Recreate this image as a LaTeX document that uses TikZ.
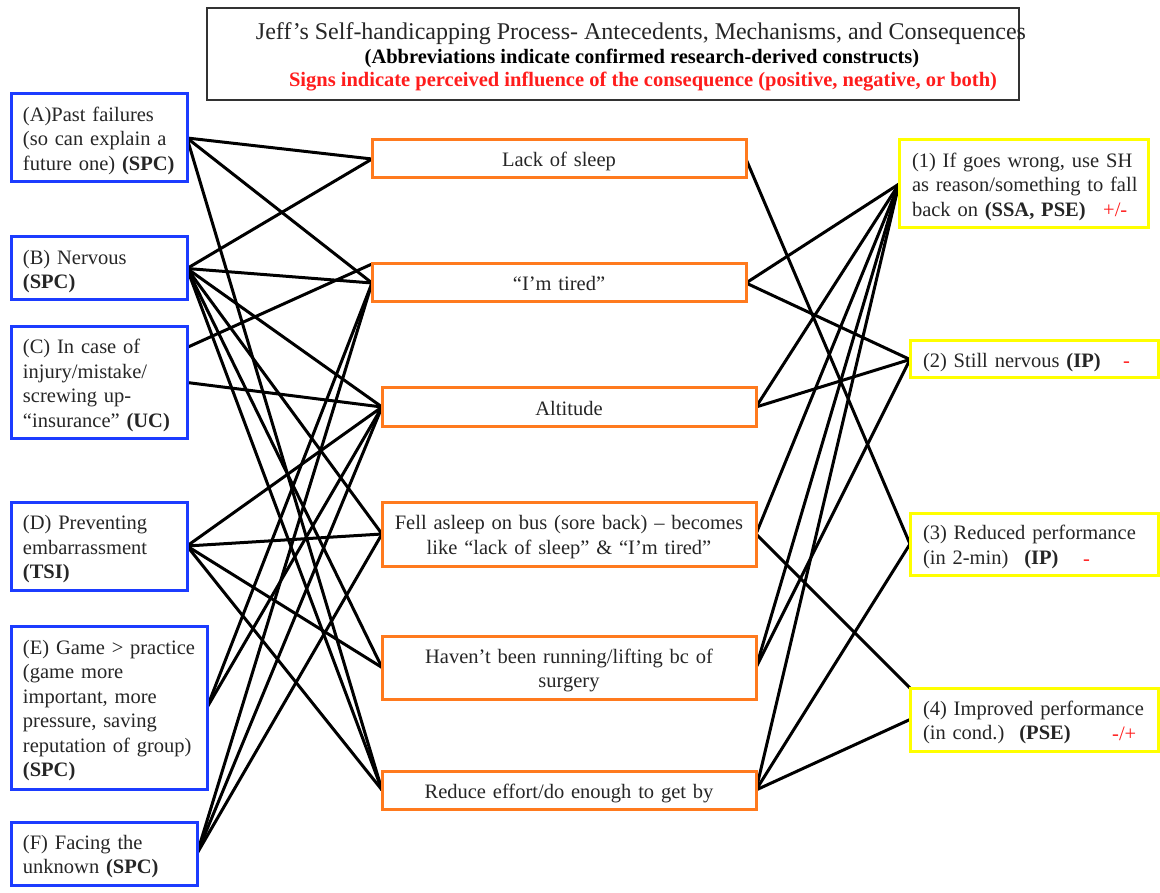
\documentclass[tikz,border=0pt]{standalone}
\usepackage{fontspec}
\setmainfont{Liberation Serif}
\usetikzlibrary{backgrounds}

\definecolor{antblue}{RGB}{28,60,255}
\definecolor{mechorange}{RGB}{255,122,30}
\definecolor{consyellow}{RGB}{255,255,0}
\definecolor{signred}{RGB}{255,28,28}
\definecolor{framegray}{RGB}{50,50,50}
\definecolor{inkgray}{RGB}{38,38,38}
\newcommand{\bodyfont}{\fontsize{20.5}{24.5}\selectfont}

\begin{document}
\begin{tikzpicture}[x=1pt,y=-1pt,
  box/.style={draw, line width=3pt, fill=white, outer sep=0pt, inner ysep=0pt,
              font=\bodyfont, text=inkgray, anchor=north west,
              execute at begin node={\rule{0pt}{22pt}},
              execute at end node={\rule[-6pt]{0pt}{6pt}}},
  antbox/.style={box, draw=antblue, inner xsep=12pt, align=left},
  mechbox/.style={box, draw=mechorange, inner xsep=6pt, align=center,
                  text width=362pt, minimum width=374pt},
  consbox/.style={box, draw=consyellow, inner xsep=13pt, align=left},
  link/.style={line width=3pt, line cap=round},
  signtext/.style={text=signred, font=\bodyfont, anchor=base west, inner sep=0pt},
  titletext/.style={anchor=base, inner sep=0pt}
]
\useasboundingbox (0,0) rectangle (1160,893);

% heading
\node[draw=framegray, line width=1.5pt, outer sep=0pt, anchor=north west,
      minimum width=812pt, minimum height=92pt, inner sep=0pt] (head) at (207,8) {};
\node[titletext, font=\fontsize{24}{28}\selectfont, text=inkgray] (headA) at (641,40)
  {Jeff’s Self-handicapping Process- Antecedents, Mechanisms, and Consequences};
\node[titletext, font=\fontsize{20.5}{24}\selectfont\bfseries] (headB) at (642,64)
  {(Abbreviations indicate confirmed research-derived constructs)};
\node[titletext, font=\fontsize{20.5}{24}\selectfont\bfseries, text=signred] (headC) at (643,87)
  {Signs indicate perceived influence of the consequence (positive, negative, or both)};

% antecedents
\node[antbox, text width=152pt, minimum height=88pt] (A) at (11,94)
  {(A)Past failures\\(so can explain a\\future one) \textbf{(SPC)}};
\node[antbox, text width=152pt, minimum height=63pt] (B) at (11,237)
  {(B) Nervous\\\textbf{(SPC)}};
\node[antbox, text width=152pt, minimum height=111pt] (C) at (11,327)
  {(C) In case of\\injury/mistake/\\screwing up-\\“insurance” \textbf{(UC)}};
\node[antbox, text width=152pt, minimum height=88pt] (D) at (11,502)
  {(D) Preventing\\embarrassment\\\textbf{(TSI)}};
\node[antbox, text width=172pt, minimum height=163pt] (E) at (11,626)
  {\mbox{(E) Game > practice}\\(game more\\important, more\\pressure, saving\\\mbox{reputation of group)}\\\textbf{(SPC)}};
\node[antbox, text width=162pt, minimum height=63pt] (F) at (11,822)
  {(F) Facing the\\unknown \textbf{(SPC)}};
\coordinate (Cup) at ([yshift=35pt]C.east);

% mechanisms
\node[mechbox, minimum height=38pt] (Lack) at (372,140) {Lack of sleep};
\node[mechbox, minimum height=38pt] (Tired) at (372,264) {“I’m tired”};
\node[mechbox, minimum height=38pt] (Alt) at (382,388) {Altitude};
\node[mechbox, minimum height=64pt] (Fell) at (382,502)
  {Fell asleep on bus (sore back) – becomes\\like “lack of sleep” \& “I’m tired”};
\node[mechbox, minimum height=63pt] (Hav) at (382,636)
  {Haven’t been running/lifting bc of\\surgery};
\node[mechbox, minimum height=38pt] (Red) at (382,771) {Reduce effort/do enough to get by};

% consequences
\node[consbox, text width=223pt, minimum height=88pt] (R1) at (899,140)
  {\mbox{(1) If goes wrong, use SH}\\\mbox{as reason/something to fall}\\back on \textbf{(SSA, PSE)}};
\node[consbox, text width=222pt, minimum height=37pt] (R2) at (910,341)
  {(2) Still nervous \textbf{(IP)}};
\node[consbox, text width=222pt, minimum height=62pt] (R3) at (910,513)
  {(3) Reduced performance\\(in 2-min)\hspace{16pt}\textbf{(IP)}};
\node[consbox, text width=222pt, minimum height=63pt] (R4) at (910,688)
  {\mbox{(4) Improved performance}\\(in cond.)\hspace{15pt}\textbf{(PSE)}};

% signs of influence
\node[signtext] (S1) at (1103,217) {+/-};
\node[signtext] (S2) at (1123,368) {-};
\node[signtext] (S3) at (1083,565) {-};
\node[signtext] (S4) at (1112,740) {-/+};

% connectors, beneath the boxes
\begin{scope}[on background layer]
  \fill[white] (0,0) rectangle (1160,893);
  \draw[link] (A.east) -- (Lack.west);
  \draw[link] (A.east) -- (Tired.west);
  \draw[link] (A.east) -- (Red.west);
  \draw[link] (B.east) -- (Lack.west);
  \draw[link] (B.east) -- (Tired.west);
  \draw[link] (B.east) -- (Alt.west);
  \draw[link] (B.east) -- (Fell.west);
  \draw[link] (B.east) -- (Hav.west);
  \draw[link] (B.east) -- (Red.west);
  \draw[link] (Cup) -- (Tired.north west);
  \draw[link] (C.east) -- (Alt.west);
  \draw[link] (D.east) -- (Alt.west);
  \draw[link] (D.east) -- (Fell.west);
  \draw[link] (D.east) -- (Hav.west);
  \draw[link] (D.east) -- (Red.west);
  \draw[link] (E.east) -- (Tired.west);
  \draw[link] (E.east) -- (Alt.west);
  \draw[link] (F.east) -- (Tired.west);
  \draw[link] (F.east) -- (Alt.west);
  \draw[link] (F.east) -- (Fell.west);

  \draw[link] (Lack.east) -- (R3.west);
  \draw[link] (Tired.east) -- (R1.west);
  \draw[link] (Tired.east) -- (R2.west);
  \draw[link] (Alt.east) -- (R1.west);
  \draw[link] (Alt.east) -- (R2.west);
  \draw[link] (Fell.east) -- (R1.west);
  \draw[link] (Fell.east) -- (R4.north west);
  \draw[link] (Hav.east) -- (R1.west);
  \draw[link] (Hav.east) -- (R2.west);
  \draw[link] (Red.east) -- (R1.west);
  \draw[link] (Red.east) -- (R3.west);
  \draw[link] (Red.east) -- (R4.west);
\end{scope}
\end{tikzpicture}
\end{document}
